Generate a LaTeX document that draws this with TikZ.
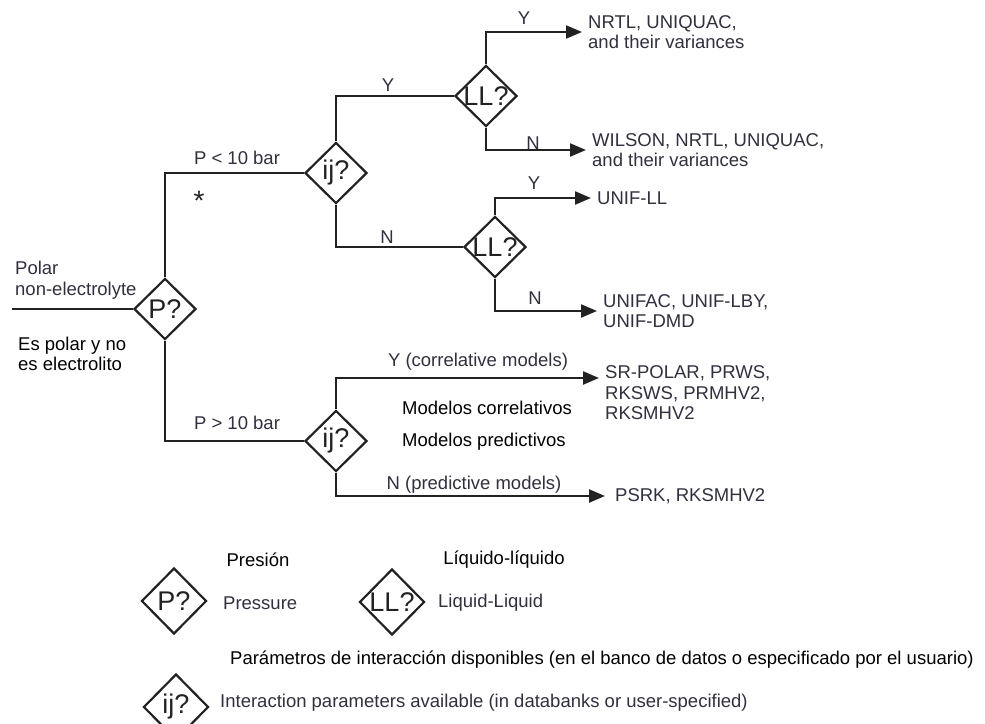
\documentclass[tikz,border=0pt]{standalone}
\usepackage{fontspec}
\setmainfont{Liberation Sans}
\usepackage{tikz}
\usetikzlibrary{arrows.meta,shapes.geometric}
\definecolor{ink}{RGB}{34,34,34}
\definecolor{labelgray}{RGB}{48,48,62}
\newcommand{\askbox}[1]{\makebox[0pt]{#1}}
\tikzstyle{decisionbox} = [diamond, draw=ink, line width=2.2pt, minimum width=62pt, minimum height=61pt, inner sep=0pt, text=ink, font=\fontsize{27}{27}\selectfont]
\tikzstyle{legendbox}   = [decisionbox, minimum width=65pt, minimum height=66pt]
\tikzstyle{lbl}         = [inner sep=0pt, text=labelgray, font=\fontsize{18.5}{20.5}\selectfont]
\tikzstyle{spnote}      = [lbl, text=black]
\tikzstyle{resulttext}  = [lbl, anchor=west, align=left, inner xsep=6pt]
\tikzstyle{branchline}  = [draw=ink, line width=2.2pt]
\tikzstyle{resultarrow} = [branchline, -{Triangle[length=16pt,width=13pt]}]

\begin{document}
\begin{tikzpicture}[x=1pt,y=-1pt]
      \useasboundingbox (0,0) rectangle (985,723);
      \node[decisionbox] (P)   at (165,309) {\askbox{P?}};
      \node[decisionbox] (ij1) at (336,173) {\askbox{ij?}};
      \node[decisionbox] (ij2) at (336,441) {\askbox{ij?}};
      \node[decisionbox] (LL1) at (486, 96) {\askbox{LL?}};
      \node[decisionbox] (LL2) at (495,247) {\askbox{LL?}};
      \node[resulttext]  (nrtl)    at (582, 32) {NRTL, UNIQUAC,\\and their variances};
      \node[resulttext]  (wilson)  at (586,150) {WILSON, NRTL, UNIQUAC,\\and their variances};
      \node[resulttext]  (unifll)  at (591,198) {UNIF-LL};
      \node[resulttext]  (unifac)  at (597,311) {UNIFAC, UNIF-LBY,\\UNIF-DMD};
      \node[resulttext]  (srpolar) at (599,393) {SR-POLAR, PRWS,\\RKSWS, PRMHV2,\\RKSMHV2};
      \node[resulttext, inner xsep=10pt] (psrk) at (605,496) {PSRK, RKSMHV2};
      \node[lbl, anchor=west, align=left] (polar) at (15,280) {Polar\\non-electrolyte};
      \coordinate (feed) at (12,309);
      \draw[branchline]  (feed) -- (P.west);
      \draw[branchline]  (P.north)   |- (ij1.west);
      \draw[branchline]  (P.south)   |- (ij2.west);
      \draw[branchline]  (ij1.north) |- (LL1.west);
      \draw[branchline]  (ij1.south) |- (LL2.west);
      \draw[resultarrow] (LL1.north) |- (nrtl.west);
      \draw[resultarrow] (LL1.south) |- (wilson.west);
      \draw[resultarrow] (LL2.north) |- (unifll.west);
      \draw[resultarrow] (LL2.south) |- (unifac.west);
      \draw[resultarrow] (ij2.north) |- ([yshift=15pt]srpolar.west);
      \draw[resultarrow] (ij2.south) |- (psrk.west);
      \node[lbl]         (yLLa)  at (524, 18) {Y};
      \node[lbl]         (nLLa)  at (533,143) {N};
      \node[lbl]         (yIJa)  at (388, 85) {Y};
      \node[lbl]         (nIJa)  at (387,237) {N};
      \node[lbl]         (yLLb)  at (534,183) {Y};
      \node[lbl]         (nLLb)  at (535,298) {N};
      \node[lbl]         (plow)  at (237,158) {P < 10 bar};
      \node[lbl, text=ink, font=\fontsize{28}{28}\selectfont] (star) at (199,201) {*};
      \node[lbl]         (phigh) at (237,423) {P > 10 bar};
      \node[lbl]         (ycorr) at (478,362) {Y (correlative models)};
      \node[lbl]         (npred) at (474,485) {N (predictive models)};
      \node[spnote, anchor=west] (modcorr) at (402,408) {Modelos correlativos};
      \node[spnote, anchor=west] (modpred) at (402,442) {Modelos predictivos};
      \node[spnote, anchor=west, align=left] (espolar) at (18,354) {Es polar y no\\es electrolito};
      \node[legendbox]   (Pleg)  at (174,601) {\askbox{P?}};
      \node[legendbox]   (LLleg) at (392,602) {\askbox{LL?}};
      \node[legendbox]   (ijleg) at (176,707) {\askbox{ij?}};
      \node[spnote]      (presion)  at (258,560) {Presión};
      \node[lbl, anchor=west] (pressure) at (223,603) {Pressure};
      \node[spnote]      (liqliq)   at (504,560) {Líquido-líquido};
      \node[lbl, anchor=west] (liquid)   at (438,603) {Liquid-Liquid};
      \node[spnote, anchor=west] (parametros)  at (230,660) {Parámetros de interacción disponibles (en el banco de datos o especificado por el usuario)};
      \node[lbl, anchor=west]    (interaction) at (220,703) {Interaction parameters available (in databanks or user-specified)};
\end{tikzpicture}
\end{document}
